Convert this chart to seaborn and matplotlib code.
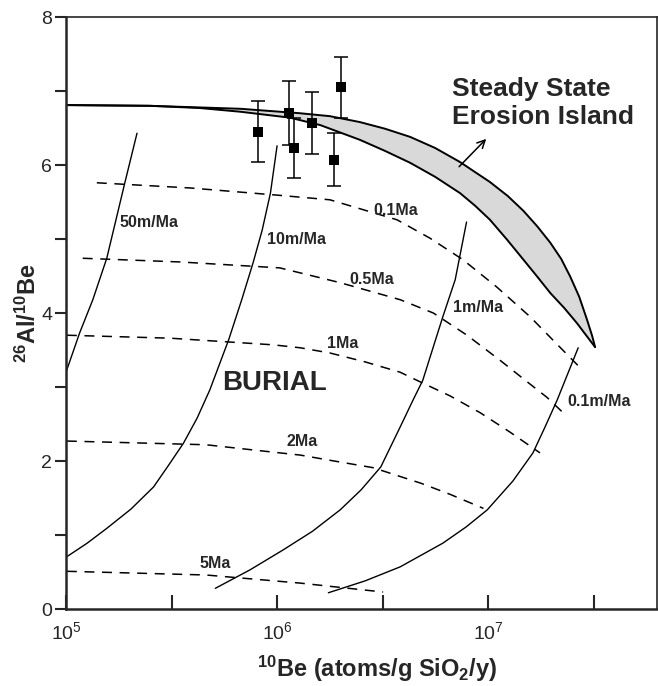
import numpy as np
import matplotlib
matplotlib.use("Agg")
import matplotlib.pyplot as plt
import matplotlib.ticker as mticker
import seaborn as sns

# measured samples
be10 = [8.1e5, 1.14e6, 1.2e6, 1.47e6, 1.86e6, 2.0e6]
ratio = [6.45, 6.70, 6.23, 6.57, 6.07, 7.05]
ratio_err = [0.41, 0.43, 0.41, 0.42, 0.36, 0.41]

# steady state erosion island (upper / lower bound)
island_up_x = [1e5, 2.5e5, 6.7e5, 1.28e6, 1.78e6, 2.47e6, 3.25e6, 4.27e6, 5.61e6,
               7.36e6, 1.02e7, 1.24e7, 1.47e7, 1.71e7, 1.97e7, 2.22e7, 2.45e7,
               2.70e7, 2.94e7, 3.11e7, 3.21e7]
island_up_y = [6.81, 6.80, 6.76, 6.70, 6.66, 6.58, 6.49, 6.38, 6.23,
               6.04, 5.77, 5.58, 5.38, 5.17, 4.95, 4.73, 4.49,
               4.22, 3.91, 3.69, 3.54]
island_lo_x = [1e5, 2.5e5, 4.3e5, 6.7e5, 1.15e6, 1.6e6, 2.47e6, 3.25e6, 4.27e6,
               5.61e6, 7.36e6, 8.67e6, 1.02e7, 1.23e7, 1.47e7, 1.71e7, 1.97e7,
               2.29e7, 2.64e7, 2.91e7, 3.21e7]
island_lo_y = [6.81, 6.80, 6.77, 6.72, 6.64, 6.54, 6.34, 6.19, 6.03,
               5.84, 5.62, 5.45, 5.26, 4.99, 4.72, 4.49, 4.27,
               4.07, 3.86, 3.70, 3.54]

# erosion rate curves
erosion = {
    "50m/Ma": ([2.17e5, 1.9e5, 1.56e5, 1.34e5, 1.16e5, 1.0e5],
               [6.43, 5.76, 4.74, 4.18, 3.73, 3.20]),
    "10m/Ma": ([1.0e6, 9.3e5, 8.5e5, 7.7e5, 6.8e5, 5.9e5, 4.8e5, 4.18e5, 3.6e5,
                3.04e5, 2.6e5, 2.03e5, 1.56e5, 1.26e5, 1.0e5],
               [6.26, 5.62, 5.12, 4.68, 4.18, 3.64, 2.96, 2.58, 2.24,
                1.93, 1.65, 1.35, 1.09, 0.89, 0.70]),
    "1m/Ma": ([7.9e6, 6.98e6, 6.1e6, 5.48e6, 4.9e6, 4.4e6, 3.83e6, 3.1e6, 2.5e6,
               1.99e6, 1.47e6, 1.07e6, 7.45e5, 5.1e5],
              [5.23, 4.45, 3.95, 3.53, 3.09, 2.82, 2.46, 1.92, 1.61,
               1.34, 1.05, 0.80, 0.53, 0.28]),
    "0.1m/Ma": ([2.67e7, 2.12e7, 1.86e7, 1.63e7, 1.31e7, 9.9e6, 7.87e6, 6.1e6,
                 3.83e6, 2.61e6, 1.75e6],
                [3.53, 2.82, 2.46, 2.11, 1.73, 1.34, 1.11, 0.89,
                 0.57, 0.38, 0.22]),
}
erosion_label_pos = {
    "50m/Ma": (1.8e5, 5.22),
    "10m/Ma": (8.98e5, 4.99),
    "1m/Ma": (6.8e6, 4.07),
    "0.1m/Ma": (2.37e7, 2.81),
}

# burial isochrons
burial = {
    "0.1Ma": ([1.40e5, 3.87e5, 1.03e6, 1.78e6, 3.7e6, 5.31e6, 7.6e6, 1.10e7,
               1.58e7, 2.10e7, 2.73e7],
              [5.76, 5.69, 5.59, 5.53, 5.26, 5.01, 4.72, 4.35,
               3.95, 3.59, 3.26]),
    "0.5Ma": ([1.2e5, 3.47e5, 1.03e6, 1.99e6, 3.83e6, 5.5e6, 7.94e6, 1.14e7,
               1.50e7, 1.9e7, 2.27e7],
              [4.74, 4.69, 4.61, 4.41, 4.18, 4.00, 3.70, 3.36,
               3.09, 2.86, 2.65]),
    "1Ma": ([1.01e5, 3.11e5, 9.6e5, 1.29e6, 1.78e6, 2.61e6, 3.83e6, 4.76e6,
             6.6e6, 9.2e6, 1.27e7, 1.76e7],
            [3.70, 3.66, 3.57, 3.53, 3.46, 3.34, 3.20, 3.07,
             2.88, 2.65, 2.39, 2.11]),
    "2Ma": ([1.01e5, 4.6e5, 9.57e5, 1.29e6, 1.78e6, 2.85e6, 4.8e6, 6.6e6, 9.5e6],
            [2.27, 2.22, 2.12, 2.08, 2.01, 1.91, 1.70, 1.55, 1.36]),
    "5Ma": ([1.01e5, 4.6e5, 1.29e6, 3.18e6],
            [0.51, 0.46, 0.35, 0.23]),
}
burial_label_pos = {
    "0.1Ma": (2.85e6, 5.38),
    "0.5Ma": (2.2e6, 4.45),
    "1Ma": (1.73e6, 3.59),
    "2Ma": (1.11e6, 2.27),
    "5Ma": (4.3e5, 0.61),
}

sns.set_style("ticks")
plt.rcParams['font.family'] = ['Liberation Sans', 'DejaVu Sans']
plt.rcParams['mathtext.fontset'] = 'custom'
plt.rcParams['mathtext.rm'] = 'Liberation Sans'
plt.rcParams['mathtext.bf'] = 'Liberation Sans:bold'

fig = plt.figure(figsize=(6.58, 6.86), dpi=100)
ax = fig.add_axes([0.1003, 0.1122, 0.898, 0.863])

# island
poly_x = np.concatenate([island_up_x, island_lo_x[::-1]])
poly_y = np.concatenate([island_up_y, island_lo_y[::-1]])
ax.fill(poly_x, poly_y, color="#d9d9d9", lw=0, zorder=1)
sns.lineplot(x=island_up_x, y=island_up_y, sort=False, estimator=None,
             color="black", lw=1.4, ax=ax, zorder=2)
sns.lineplot(x=island_lo_x, y=island_lo_y, sort=False, estimator=None,
             color="black", lw=1.4, ax=ax, zorder=2)

for name, (xs, ys) in erosion.items():
    sns.lineplot(x=xs, y=ys, sort=False, estimator=None, color="black",
                 lw=1.0, ax=ax)
    lx, ly = erosion_label_pos[name]
    ax.text(lx, ly, name, fontsize=11.5, fontweight="bold", va="center", ha="left")

for name, (xs, ys) in burial.items():
    sns.lineplot(x=xs, y=ys, sort=False, estimator=None, color="black",
                 lw=1.1, ax=ax, linestyle=(0, (6.5, 5)))
    lx, ly = burial_label_pos[name]
    ax.text(lx, ly, name, fontsize=11.5, fontweight="bold", va="center", ha="left")

# samples
ax.errorbar(be10, ratio, yerr=ratio_err, fmt="none", ecolor="black",
            elinewidth=1.1, capsize=5, capthick=1.1, zorder=4)
sns.scatterplot(x=be10, y=ratio, marker="s", s=60, color="black",
                edgecolor="black", linewidth=0, ax=ax, zorder=5)

ax.text(5.5e5, 3.05, "BURIAL", fontsize=20, fontweight="bold", va="center", ha="left")
ax.text(6.75e6, 6.84, "Steady State\nErosion Island", fontsize=19,
        fontweight="bold", va="center", ha="left", linespacing=1.2)
ax.annotate("", xy=(1.0e7, 6.38), xytext=(7.13e6, 5.95),
            arrowprops=dict(arrowstyle="->", color="black", lw=1.1,
                            mutation_scale=14))

ax.set_xscale("log")
ax.set_xlim(1e5, 6.3e7)
ax.set_ylim(0, 8)
ax.xaxis.set_major_locator(mticker.FixedLocator([1e5, 1e6, 1e7]))
ax.xaxis.set_minor_locator(mticker.FixedLocator([10**5.5, 10**6.5, 10**7.5]))
ax.xaxis.set_minor_formatter(mticker.NullFormatter())
ax.set_yticks([0, 2, 4, 6, 8])
ax.set_yticks([1, 3, 5, 7], minor=True)

ax.tick_params(axis="x", which="both", direction="in", length=10, width=1.5,
               labelsize=14, pad=9)
ax.tick_params(axis="y", which="both", direction="out", length=8, width=1.5,
               labelsize=14, pad=2)
for side in ["left", "bottom"]:
    ax.spines[side].set_linewidth(1.8)
for side in ["top", "right"]:
    ax.spines[side].set_linewidth(1.2)

ax.set_xlabel(r"$\mathbf{^{10}Be}$ (atoms/g SiO$_\mathbf{2}$/y)", fontsize=17,
              fontweight="bold")
ax.xaxis.set_label_coords(0.526, -0.076)
ax.set_ylabel(r"$\mathbf{^{26}Al/^{10}Be}$", fontsize=17, fontweight="bold")
ax.yaxis.set_label_coords(-0.042, 0.5)

fig.savefig("out.png", dpi=100)
